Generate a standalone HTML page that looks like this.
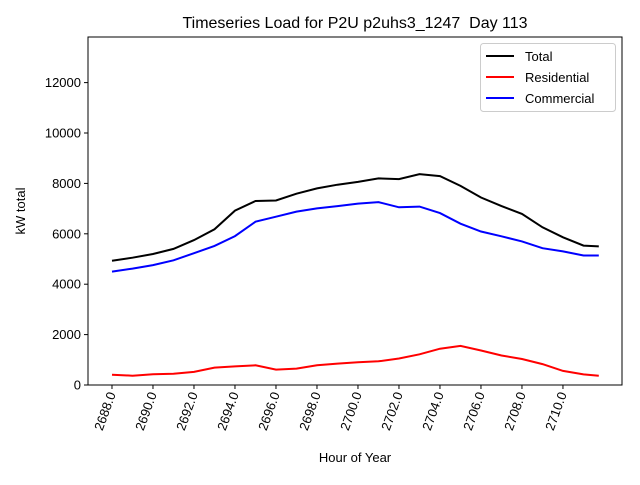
<!DOCTYPE html>
<html><head><meta charset="utf-8"><style>
body{margin:0;background:#fff;font-family:"Liberation Sans","DejaVu Sans",sans-serif;}
</style></head><body>
<svg id="chart" width="640" height="480" xmlns="http://www.w3.org/2000/svg">
<rect width="640" height="480" fill="#fff"/>
<text x="355" y="28" font-size="16" text-anchor="middle">Timeseries Load for P2U p2uhs3_1247&#160; Day 113</text>
<text x="0" y="0" font-size="13" text-anchor="middle" transform="translate(25,211) rotate(-90)">kW total</text>
<text x="355" y="462" font-size="13" text-anchor="middle">Hour of Year</text>
<g id="axes"></g>
<g id="series"></g>
<rect x="88" y="37" width="534" height="348" fill="none" stroke="#000" stroke-width="1"/>
<g>
<rect x="480.5" y="43.5" width="135" height="68" fill="#fff" stroke="#ccc" rx="3"/>
<line x1="486" y1="56" x2="514" y2="56" stroke="#000" stroke-width="2"/>
<text x="525" y="61" font-size="13">Total</text>
<line x1="486" y1="77" x2="514" y2="77" stroke="#f00" stroke-width="2"/>
<text x="525" y="82" font-size="13">Residential</text>
<line x1="486" y1="98" x2="514" y2="98" stroke="#00f" stroke-width="2"/>
<text x="525" y="103" font-size="13">Commercial</text>
</g>
</svg>
<script>
const hours=[2688,2689,2690,2691,2692,2693,2694,2695,2696,2697,2698,2699,2700,2701,2702,2703,2704,2705,2706,2707,2708,2709,2710,2711,2711.75];
const total=[4930,5050,5200,5400,5750,6180,6920,7300,7320,7590,7800,7950,8060,8200,8170,8370,8290,7900,7440,7100,6790,6260,5860,5530,5500];
const commercial=[4500,4620,4760,4950,5230,5520,5910,6480,6680,6880,7010,7100,7200,7260,7050,7080,6820,6400,6090,5900,5700,5430,5300,5140,5140];
const residential=[410,370,430,450,520,690,740,780,610,650,780,850,900,940,1050,1220,1440,1550,1370,1170,1030,830,560,420,370];
const yTicks=[0,2000,4000,6000,8000,10000,12000];
const xTicks=[2688,2690,2692,2694,2696,2698,2700,2702,2704,2706,2708,2710];
const NS="http://www.w3.org/2000/svg";
const L=88,R=622,T=37,B=385,X0=2686.83,X1=2712.88,Y1=13810;
function sx(h){return L+(h-X0)/(X1-X0)*(R-L);}
function sy(v){return B-v/Y1*(B-T);}
const axes=document.getElementById('axes');
yTicks.forEach(v=>{
  const y=sy(v);
  const t=document.createElementNS(NS,'line');
  t.setAttribute('x1',L-4);t.setAttribute('x2',L);t.setAttribute('y1',y);t.setAttribute('y2',y);t.setAttribute('stroke','#000');
  
  
  axes.appendChild(t);
  const tx=document.createElementNS(NS,'text');
  tx.setAttribute('x',L-7);tx.setAttribute('y',y+4.5);tx.setAttribute('font-size','13');tx.setAttribute('text-anchor','end');
  tx.textContent=v;
  
  
  axes.appendChild(tx);
});
xTicks.forEach(h=>{
  const x=sx(h);
  const t=document.createElementNS(NS,'line');
  t.setAttribute('x1',x);t.setAttribute('x2',x);t.setAttribute('y1',B);t.setAttribute('y2',B+4);t.setAttribute('stroke','#000');
  
  
  axes.appendChild(t);
  const tx=document.createElementNS(NS,'text');
  tx.setAttribute('font-size','13');tx.setAttribute('text-anchor','end');
  tx.setAttribute('transform','translate('+(x+4)+','+(B+9)+') rotate(-70)');
  tx.textContent=h.toFixed(1);
  
  
  axes.appendChild(tx);
});
const ser=document.getElementById('series');
[[total,'#000','total-line'],[residential,'#f00','residential-line'],[commercial,'#00f','commercial-line']].forEach(([vals,c,n])=>{
  const p=document.createElementNS(NS,'polyline');
  p.setAttribute('points',vals.map((v,i)=>sx(hours[i]).toFixed(1)+','+sy(v).toFixed(1)).join(' '));
  p.setAttribute('fill','none');p.setAttribute('stroke',c);p.setAttribute('stroke-width','2');
  
  
  ser.appendChild(p);
});
</script>
</body></html>
